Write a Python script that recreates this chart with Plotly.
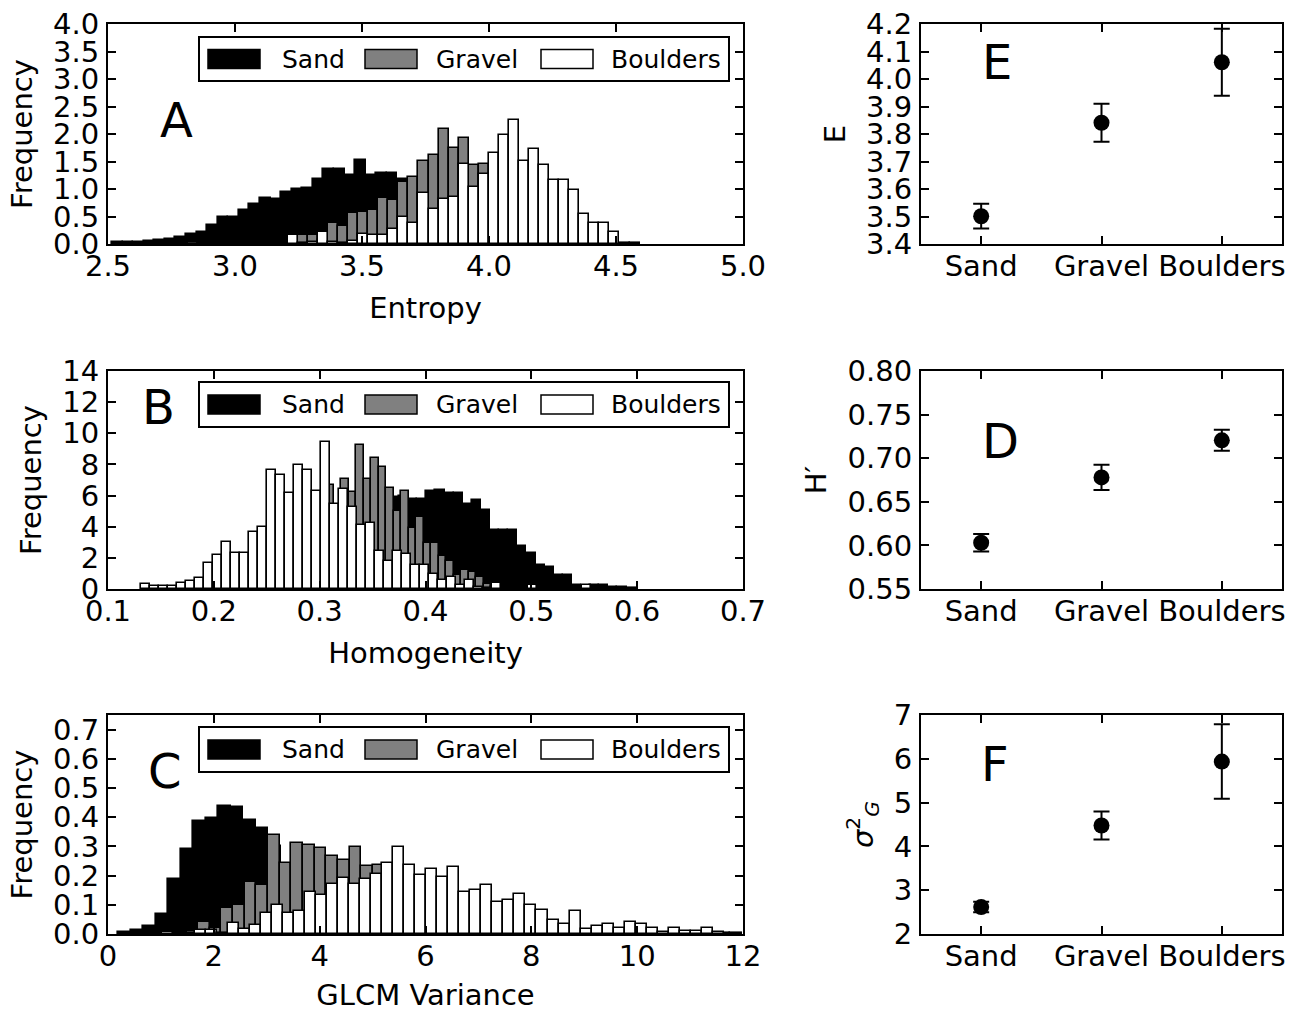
import plotly.graph_objects as go

W, H = 1303, 1012
FONT = "DejaVu Sans"

# ---------------- DATA ----------------
series_names = ["Sand", "Gravel", "Boulders"]
series_colors = ["#000000", "#808080", "#ffffff"]

# Panel A : Entropy histograms (density)
A_sand_edge0, A_sand_binw = 2.516, 0.0416
A_sand = [0.03, 0.04, 0.04, 0.06, 0.07, 0.10, 0.12, 0.19, 0.22, 0.34,
          0.50, 0.50, 0.61, 0.73, 0.83, 0.81, 0.95, 1.00, 1.01, 1.18,
          1.36, 1.36, 1.25, 1.52, 1.25, 1.30, 1.30, 1.19, 1.15,
          1.10, 1.00, 0.95, 0.85, 0.75, 0.65, 0.55, 0.45, 0.35, 0.28, 0.20,
          0.15, 0.10, 0.07, 0.05, 0.03, 0.02, 0.015, 0.01, 0.01, 0.01]
A_grav_edge0, A_grav_binw = 2.698, 0.0394
A_gravel = [0, 0, 0.03, 0.03, 0.02, 0, 0.01, 0.02, 0.02, 0.02,
            0.02, 0.02, 0.03, 0.05, 0.16, 0.16, 0.08, 0.39, 0.33, 0.56,
            0.58, 0.61, 0.83, 0.80, 1.13, 1.21, 1.51, 1.61, 2.10, 1.74,
            1.93, 1.44, 1.45, 1.20, 0.95, 0.80, 0.60, 0.45, 0.30, 0.20,
            0.12, 0.08, 0.05, 0.03, 0.02, 0.01]
A_boul_edge0, A_boul_binw = 2.698, 0.0394
A_boulders = [0, 0, 0.02, 0, 0.02, 0, 0, 0.02, 0.02, 0,
              0.02, 0.02, 0.02, 0.16, 0.02, 0.03, 0.22, 0.03, 0.02, 0.05,
              0.19, 0.16, 0.16, 0.28, 0.50, 0.39, 0.92, 0.63, 0.81, 0.85,
              1.45, 1.04, 1.27, 1.66, 1.98, 2.25, 1.51, 1.72, 1.43, 1.16,
              1.16, 0.98, 0.54, 0.39, 0.39, 0.22]

# Panel B : Homogeneity histograms
B_sand_edge0, B_sand_binw = 0.2374, 0.0086
B_sand = [0.05, 0.1, 0.2, 0.3, 0.5, 0.7, 1.0, 1.5, 2.0, 2.5,
          3.0, 3.5, 4.0, 4.5, 5.0, 5.9, 5.98, 5.77, 5.77, 6.30,
          6.34, 6.19, 6.19, 5.45, 5.72, 5.09, 3.81, 3.81, 3.81, 2.79,
          2.30, 1.51, 1.40, 0.87, 0.87, 0.28, 0.2, 0.28, 0.28, 0.13,
          0.13, 0.05]
B_grav_edge0, B_grav_binw = 0.2426, 0.00708
B_gravel = [0.05, 0.15, 0.3, 0.6, 1.0, 1.5, 2.5, 3.5, 5.0, 6.66,
            5.0, 7.04, 6.23, 9.28, 7.04, 8.43, 7.83, 6.47, 5.0, 6.3,
            3.9, 4.6, 2.94, 2.94, 2.09, 1.77, 0.87, 1.19, 1.09, 0.77,
            0.30, 0.1, 0.05]
B_boul_edge0, B_boul_binw = 0.1308, 0.00851
B_boulders = [0.34, 0.2, 0.2, 0.2, 0.38, 0.53, 0.70, 1.70, 2.17, 3.0,
              2.34, 2.34, 3.68, 4.0, 7.62, 7.30, 6.17, 7.98, 7.62, 6.28,
              9.43, 5.45, 6.45, 5.28, 4.10, 4.26, 2.47, 1.81, 2.43, 2.26,
              1.57, 1.57, 0.94, 0.60, 0.77, 0.25, 0.55, 0.10, 0.05, 0.38,
              0, 0, 0.02, 0.23, 0, 0, 0, 0, 0, 0.23]

# Panel C : GLCM variance histograms
C_sand_edge0, C_sand_binw = 0.195, 0.2358
C_sand = [0.006, 0.013, 0.029, 0.07, 0.19, 0.29, 0.386, 0.397, 0.44, 0.435,
          0.39, 0.363, 0.30, 0.22, 0.15, 0.10, 0.07, 0.05, 0.035, 0.025,
          0.018, 0.014, 0.011, 0.009, 0.008, 0.007, 0.006, 0.005, 0.005, 0.004,
          0.004, 0.004, 0.003, 0.003, 0.003, 0.003, 0.003, 0.002, 0.002, 0.002,
          0.002, 0.002, 0.002, 0.002, 0.002, 0.002, 0.002, 0.002, 0.002, 0.002]
C_grav_edge0, C_grav_binw = 1.264, 0.2201
C_gravel = [0.005, 0.01, 0.041, 0.02, 0.089, 0.10, 0.178, 0.169, 0.338, 0.243,
            0.312, 0.306, 0.295, 0.266, 0.252, 0.297, 0.232, 0.235, 0.2, 0.18,
            0.15, 0.12, 0.1, 0.08, 0.06, 0.05, 0.04, 0.03, 0.02, 0.015,
            0.01, 0.01, 0.005]
C_boul_edge0, C_boul_binw = 1.0116, 0.2084
C_boulders = [0.007, 0, 0.003, 0.015, 0.015, 0.005, 0.038, 0.017, 0.032, 0.072,
              0.098, 0.072, 0.078, 0.144, 0.135, 0.171, 0.192, 0.172, 0.189, 0.207,
              0.243, 0.297, 0.235, 0.202, 0.224, 0.195, 0.229, 0.143, 0.150, 0.169,
              0.108, 0.115, 0.137, 0.100, 0.081, 0.047, 0.034, 0.080, 0.018, 0.029,
              0.035, 0.021, 0.041, 0.034, 0.021, 0.006, 0.021, 0.009, 0.009, 0.021,
              0.006]

# Right panels: mean +/- error
classes = ["Sand", "Gravel", "Boulders"]
E_mean = [3.501, 3.841, 4.061]
E_err = [0.045, 0.069, 0.122]
D_mean = [0.603, 0.678, 0.7205]
D_err = [0.010, 0.0145, 0.012]
F_mean = [2.615, 4.477, 5.936]
F_err = [0.12, 0.32, 0.85]

# ---------------- FIGURE ----------------
fig = go.Figure()


def add_hist(vals, edge0, binw, color, xa, ya):
    fig.add_trace(go.Bar(
        y=vals, x0=edge0 + binw / 2, dx=binw, width=binw,
        marker=dict(color=color, line=dict(color="black", width=1.6)),
        xaxis=xa, yaxis=ya, showlegend=False, hoverinfo="skip"))


add_hist(A_sand, A_sand_edge0, A_sand_binw, series_colors[0], "x", "y")
add_hist(A_gravel, A_grav_edge0, A_grav_binw, series_colors[1], "x", "y")
add_hist(A_boulders, A_boul_edge0, A_boul_binw, series_colors[2], "x", "y")

add_hist(B_sand, B_sand_edge0, B_sand_binw, series_colors[0], "x3", "y3")
add_hist(B_gravel, B_grav_edge0, B_grav_binw, series_colors[1], "x3", "y3")
add_hist(B_boulders, B_boul_edge0, B_boul_binw, series_colors[2], "x3", "y3")

add_hist(C_sand, C_sand_edge0, C_sand_binw, series_colors[0], "x5", "y5")
add_hist(C_gravel, C_grav_edge0, C_grav_binw, series_colors[1], "x5", "y5")
add_hist(C_boulders, C_boul_edge0, C_boul_binw, series_colors[2], "x5", "y5")


def add_err(mean, err, xa, ya):
    fig.add_trace(go.Scatter(
        x=classes, y=mean, mode="markers",
        marker=dict(color="black", size=16),
        error_y=dict(type="data", array=err, color="black", thickness=2, width=8),
        xaxis=xa, yaxis=ya, showlegend=False, hoverinfo="skip"))


add_err(E_mean, E_err, "x2", "y2")
add_err(D_mean, D_err, "x4", "y4")
add_err(F_mean, F_err, "x6", "y6")

# ---------------- LAYOUT ----------------
LX = [108 / W, 743 / W]
RX = [921 / W, 1282 / W]
ROW = [[1 - 244 / H, 1 - 24 / H], [1 - 589 / H, 1 - 371 / H], [1 - 934 / H, 1 - 715 / H]]

tickfont = dict(family=FONT, size=29, color="black")
titlefont = dict(family=FONT, size=29, color="black")


def ax(domain, anchor, standoff, **kw):
    d = dict(domain=domain, anchor=anchor, showline=True, linecolor="black", linewidth=2,
             mirror="ticks", ticks="inside", ticklen=8, tickwidth=1.5, tickcolor="black",
             showgrid=False, zeroline=False, tickfont=tickfont, automargin=False,
             ticklabelstandoff=standoff)
    d.update(kw)
    return d


XS, YS = -5, 1
XT, YT = 16, 12
layout = dict(
    width=W, height=H, margin=dict(l=0, r=0, t=0, b=0),
    paper_bgcolor="white", plot_bgcolor="white", barmode="overlay", bargap=0,
    font=dict(family=FONT, color="black"), showlegend=False,
    xaxis=ax(LX, "y", XS, range=[2.5, 5.0], dtick=0.5, tickformat=".1f",
             title=dict(text="Entropy", font=titlefont, standoff=XT)),
    yaxis=ax(ROW[0], "x", YS, range=[0, 4.0], dtick=0.5, tickformat=".1f",
             title=dict(text="Frequency", font=titlefont, standoff=YT)),
    xaxis2=ax(RX, "y2", XS, range=[-0.5, 2.5], type="category"),
    yaxis2=ax(ROW[0], "x2", YS, range=[3.4, 4.2], dtick=0.1, tickformat=".1f",
              title=dict(text="E", font=titlefont, standoff=YT)),
    xaxis3=ax(LX, "y3", XS, range=[0.1, 0.7], dtick=0.1, tickformat=".1f",
              title=dict(text="Homogeneity", font=titlefont, standoff=XT)),
    yaxis3=ax(ROW[1], "x3", YS, range=[0, 14], dtick=2,
              title=dict(text="Frequency", font=titlefont, standoff=YT)),
    xaxis4=ax(RX, "y4", XS, range=[-0.5, 2.5], type="category"),
    yaxis4=ax(ROW[1], "x4", YS, range=[0.55, 0.80], dtick=0.05, tickformat=".2f",
              title=dict(text="H′", font=titlefont, standoff=YT)),
    xaxis5=ax(LX, "y5", XS, range=[0, 12], dtick=2,
              title=dict(text="GLCM Variance", font=titlefont, standoff=XT)),
    yaxis5=ax(ROW[2], "x5", YS, range=[0, 0.75], dtick=0.1, tickformat=".1f",
              title=dict(text="Frequency", font=titlefont, standoff=YT)),
    xaxis6=ax(RX, "y6", XS, range=[-0.5, 2.5], type="category"),
    yaxis6=ax(ROW[2], "x6", YS, range=[2, 7], dtick=1,
              title=dict(text="<i>σ</i><sup>2</sup><sub><i>G</i></sub>", font=titlefont, standoff=YT)),
)
fig.update_layout(**layout)


def px(x):
    return x / W


def py(y):
    return 1 - y / H


annotations = []
shapes = []

# panel letters
for letter, cx, cy in [("A", 176, 120), ("B", 158, 407), ("C", 165, 771),
                       ("E", 997, 62), ("D", 1000, 441), ("F", 995, 764)]:
    annotations.append(dict(x=px(cx), y=py(cy), xref="paper", yref="paper", text=letter,
                            showarrow=False, xanchor="center", yanchor="middle",
                            font=dict(family=FONT, size=48, color="black")))

# legend boxes (one per histogram panel)
for top, bot in [(37, 81), (382, 427), (727, 772)]:
    shapes.append(dict(type="rect", xref="paper", yref="paper",
                       x0=px(199), x1=px(729), y0=py(bot), y1=py(top),
                       line=dict(color="black", width=2), fillcolor="white", layer="above"))
    mid = (top + bot) / 2
    for name, color, x0, tx in zip(series_names, series_colors, [208, 365, 541], [280, 434, 609]):
        shapes.append(dict(type="rect", xref="paper", yref="paper",
                           x0=px(x0), x1=px(x0 + 52), y0=py(mid + 9.5), y1=py(mid - 9.5),
                           line=dict(color="black", width=1.5), fillcolor=color, layer="above"))
        annotations.append(dict(x=px(tx), y=py(mid), xref="paper", yref="paper", text=name,
                                showarrow=False, xanchor="left", yanchor="middle",
                                font=dict(family=FONT, size=25, color="black")))

fig.update_layout(annotations=annotations, shapes=shapes)
fig.write_html("out.html", config={"displayModeBar": False},
               post_script="document.body.style.margin='0px';document.body.style.overflow='hidden';")
